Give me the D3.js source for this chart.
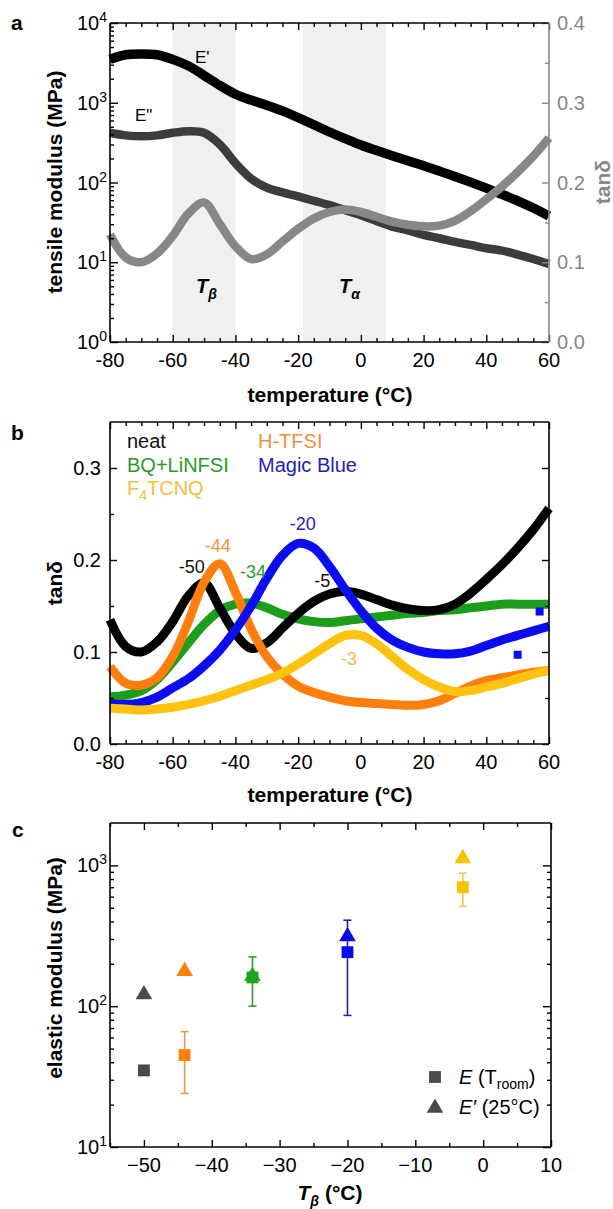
<!DOCTYPE html>
<html>
<head>
<meta charset="utf-8">
<script src="https://cdn.jsdelivr.net/npm/d3@7"></script>
<style>
  body { margin: 0; background: #fff; }
  svg { display: block; }
  text { font-family: "Liberation Sans", Arial, sans-serif; }
</style>
</head>
<body>
<div id="fig"></div>
<script>
// ---- data ----
const temps = [-80,-75,-70,-65,-60,-55,-50,-45,-40,-35,-30,-25,-20,-15,-10,-5,0,5,10,15,20,25,30,35,40,45,50,55,60];

// panel a: storage / loss modulus (MPa) and tan delta of the neat film
const eStorage = [3500,4000,4100,4000,3500,2900,2200,1650,1280,1080,930,790,650,530,430,355,295,252,217,187,162,139,119,101,85,71,59,48,38];
const eLoss = [420,390,380,390,420,440,420,300,175,112,86,75,67,59,52,45,39,33,28,25,22,20,18,16.5,15,14,12.5,11,9.5];
const tanNeat = [0.135,0.106,0.100,0.111,0.133,0.161,0.175,0.148,0.120,0.104,0.110,0.126,0.142,0.155,0.163,0.166,0.163,0.157,0.151,0.147,0.145,0.146,0.152,0.164,0.179,0.195,0.213,0.233,0.256];

// panel b: tan delta of the doped films
const tanHTFSI = [0.084,0.066,0.064,0.072,0.095,0.133,0.176,0.196,0.165,0.125,0.095,0.076,0.063,0.056,0.051,0.047,0.045,0.044,0.043,0.042,0.043,0.047,0.055,0.063,0.069,0.072,0.075,0.078,0.080];
const tanBQ = [0.051,0.053,0.058,0.070,0.089,0.110,0.130,0.145,0.152,0.153,0.148,0.141,0.136,0.133,0.132,0.134,0.136,0.138,0.140,0.142,0.143,0.145,0.146,0.148,0.150,0.152,0.152,0.152,0.152];
const tanMagic = [0.044,0.043,0.045,0.051,0.061,0.071,0.085,0.102,0.124,0.150,0.180,0.205,0.218,0.213,0.193,0.168,0.145,0.126,0.113,0.105,0.100,0.098,0.098,0.101,0.107,0.113,0.118,0.123,0.128];
const tanF4 = [0.039,0.038,0.037,0.038,0.040,0.043,0.047,0.052,0.058,0.064,0.070,0.077,0.087,0.098,0.109,0.118,0.118,0.109,0.095,0.081,0.070,0.062,0.057,0.058,0.062,0.066,0.071,0.076,0.080];
const magicStray = [[50, 0.097], [57, 0.144]];

const tempMajor = [-80,-60,-40,-20,0,20,40,60];
const tempMinor = [-75,-70,-65,-55,-50,-45,-35,-30,-25,-15,-10,-5,5,10,15,25,30,35,45,50,55];
const decadesA = [1,10,100,1000,10000];
const expA = ["0","1","2","3","4"];
const logMinorA = [2,3,4,5,6,7,8,9,20,30,40,50,60,70,80,90,200,300,400,500,600,700,800,900,2000,3000,4000,5000,6000,7000,8000,9000];
const tanMajorA = [0,0.1,0.2,0.3,0.4];
const tanMinorA = [0.05,0.15,0.25,0.35];
const tanMajorB = [0,0.1,0.2,0.3];
const tanMinorB = [0.05,0.15,0.25];
const bandsA = [[-60,-40],[-18.5,8]];

// peak labels in panel b (placed where they sit in the figure)
const peakLabels = ["-50","-44","-34","-20","-5","-3"];
const peakT = [-53.9,-45.6,-34.4,-18.5,-12.3,-3.8];
const peakTan = [0.186,0.209,0.180,0.233,0.171,0.086];

// panel c
const tBeta = [-50,-44,-34,-20,-3];
const eRoom = [35,45,160,242,700];
const eRoomLo = [null,24,100,86,512];
const eRoomHi = [null,66,224,408,880];
const ePrime25 = [123,180,166,318,1140];
const tbMajor = [-50,-40,-30,-20,-10,0,10];
const tbMinor = [-55,-45,-35,-25,-15,-5,5];
const decadesC = [10,100,1000];
const expC = ["1","2","3"];
const logMinorC = [20,30,40,50,60,70,80,90,200,300,400,500,600,700,800,900];

// ---- colours ----
const colNeat = "#000000", colHTFSI = "#ff7f0e", colBQ = "#1b9e1b", colMagic = "#0c0cf0", colF4 = "#ffc20e";
const txtNeat = "#111111", txtHTFSI = "#ee9144", txtBQ = "#2a9b2a", txtMagic = "#2323b0", txtF4 = "#f0c13a";
const colC = ["#4a4a4a", "#ff7f0e", "#1ea41e", "#0a0ae6", "#f7c100"];
const errC = [null, "#d8a048", "#30a030", "#23239a", "#eec455"];
const grayTan = "#878787";

const svg = d3.select("#fig").append("svg").attr("width", 613).attr("height", 1209);

const pa = {l: 110, r: 549, t: 23, b: 342};
const pb = {l: 110, r: 549, t: 422, b: 744};
const pc = {l: 110, r: 551, t: 823, b: 1147};

// ticks pointing into the plot
const tickSet = (gen, scale, vals, size, pos, color) => {
    const g = svg.append("g").attr("transform", pos)
        .call(gen(scale).tickValues(vals).tickSize(size).tickSizeOuter(0).tickFormat(""));
    g.select(".domain").remove();
    g.selectAll("line").attr("stroke", color || "#000").attr("stroke-width", 1.4);
    return g;
};
const frameLine = (x1, y1, x2, y2, color) => svg.append("line")
    .attr("x1", x1).attr("y1", y1).attr("x2", x2).attr("y2", y2)
    .attr("stroke", color || "#000").attr("stroke-width", 1.6);
const tickText = (vals, fx, fy, txt, anchor, color) => svg.append("g")
    .selectAll("text").data(vals).join("text")
    .attr("x", fx).attr("y", fy)
    .attr("text-anchor", anchor).attr("font-size", 20).attr("fill", color || "#000")
    .text(txt);
const powText = (vals, exps, scale, xRight) => {
    svg.append("g").selectAll("text").data(vals).join("text")
        .attr("x", xRight).attr("y", d => scale(d) + 7)
        .attr("text-anchor", "end").attr("font-size", 20)
        .each(function (d, i) {
            const t = d3.select(this);
            t.append("tspan").text("10");
            t.append("tspan").attr("dy", -8).attr("font-size", 14).text(exps[i]);
        });
};
const yTitle = (x, y, color) => svg.append("text")
    .attr("transform", `translate(${x},${y}) rotate(-90)`)
    .attr("text-anchor", "middle").attr("font-size", 21).attr("font-weight", "bold")
    .attr("fill", color || "#000");
const xTitle = (y) => svg.append("text").attr("x", 330).attr("y", y).attr("text-anchor", "middle")
    .attr("font-size", 21).attr("font-weight", "bold");
const panelLetter = (txt, x, y) => svg.append("text").attr("x", x).attr("y", y)
    .attr("font-size", 21).attr("font-weight", "bold").text(txt);

// =============== panel a ===============
const xA = d3.scaleLinear().domain([-80, 60]).range([pa.l, pa.r]);
const yA = d3.scaleLog().domain([1, 1e4]).range([pa.b, pa.t]);
const yA2 = d3.scaleLinear().domain([0, 0.4]).range([pa.b, pa.t]);

svg.append("g").selectAll("rect").data(bandsA).join("rect")
    .attr("x", d => xA(d[0])).attr("width", d => xA(d[1]) - xA(d[0]))
    .attr("y", pa.t).attr("height", pa.b - pa.t)
    .attr("fill", "#f0f0f0");

const lineA = d3.line().x(d => xA(d[0])).y(d => yA(d[1])).curve(d3.curveCatmullRom);
const lineA2 = d3.line().x(d => xA(d[0])).y(d => yA2(d[1])).curve(d3.curveCatmullRom);
svg.append("path").datum(d3.zip(temps, eStorage)).attr("d", lineA)
    .attr("fill", "none").attr("stroke", "#000").attr("stroke-width", 9.5);
svg.append("path").datum(d3.zip(temps, eLoss)).attr("d", lineA)
    .attr("fill", "none").attr("stroke", "#3c3c3c").attr("stroke-width", 8.5);
svg.append("path").datum(d3.zip(temps, tanNeat)).attr("d", lineA2)
    .attr("fill", "none").attr("stroke", grayTan).attr("stroke-width", 8.5);

tickSet(d3.axisBottom, xA, tempMajor, -7, `translate(0,${pa.b})`);
tickSet(d3.axisBottom, xA, tempMinor, -4, `translate(0,${pa.b})`);
tickSet(d3.axisTop, xA, tempMajor, -7, `translate(0,${pa.t})`);
tickSet(d3.axisTop, xA, tempMinor, -4, `translate(0,${pa.t})`);
tickSet(d3.axisLeft, yA, decadesA, -8, `translate(${pa.l},0)`);
tickSet(d3.axisLeft, yA, logMinorA, -4, `translate(${pa.l},0)`);
tickSet(d3.axisRight, yA2, tanMajorA, -7, `translate(${pa.r},0)`, grayTan);
tickSet(d3.axisRight, yA2, tanMinorA, -4, `translate(${pa.r},0)`, grayTan);
frameLine(pa.l, pa.t, pa.r, pa.t);
frameLine(pa.l, pa.b, pa.r, pa.b);
frameLine(pa.l, pa.t, pa.l, pa.b);
frameLine(pa.r, pa.t, pa.r, pa.b, grayTan);

tickText(tempMajor, d => xA(d), pa.b + 25, d => d, "middle");
powText(decadesA, expA, yA, 107);
tickText(tanMajorA, pa.r + 8, d => yA2(d) + 7, d => d3.format(".1f")(d), "start", grayTan);

svg.append("text").attr("x", 195).attr("y", 63).attr("font-size", 17).text("E'");
svg.append("text").attr("x", 135).attr("y", 121).attr("font-size", 17).text('E"');

const tLabelA = (x, sub) => {
    const t = svg.append("text").attr("x", x).attr("y", 293)
        .attr("font-size", 20).attr("font-weight", "bold").attr("font-style", "italic");
    t.append("tspan").text("T");
    t.append("tspan").attr("dy", 6).attr("font-size", 14).text(sub);
};
tLabelA(196, "β");
tLabelA(339, "α");

xTitle(402).text("temperature (°C)");
yTitle(62, 182).text("tensile modulus (MPa)");
yTitle(610, 182, grayTan).text("tanδ");
panelLetter("a", 11, 30);

// =============== panel b ===============
const xB = d3.scaleLinear().domain([-80, 60]).range([pb.l, pb.r]);
const yB = d3.scaleLinear().domain([0, 0.35]).range([pb.b, pb.t]);
const lineB = d3.line().x(d => xB(d[0])).y(d => yB(d[1])).curve(d3.curveCatmullRom);

const seriesB = [
    {vals: tanBQ, col: colBQ},
    {vals: tanNeat, col: colNeat},
    {vals: tanHTFSI, col: colHTFSI},
    {vals: tanMagic, col: colMagic},
    {vals: tanF4, col: colF4}
];
svg.append("g").selectAll("path").data(seriesB).join("path")
    .attr("d", s => lineB(d3.zip(temps, s.vals)))
    .attr("fill", "none").attr("stroke", s => s.col).attr("stroke-width", 9);
svg.append("g").selectAll("rect").data(magicStray).join("rect")
    .attr("x", d => xB(d[0]) - 4).attr("y", d => yB(d[1]) - 4)
    .attr("width", 8).attr("height", 8).attr("fill", colMagic);

tickSet(d3.axisBottom, xB, tempMajor, -7, `translate(0,${pb.b})`);
tickSet(d3.axisBottom, xB, tempMinor, -4, `translate(0,${pb.b})`);
tickSet(d3.axisTop, xB, tempMajor, -7, `translate(0,${pb.t})`);
tickSet(d3.axisTop, xB, tempMinor, -4, `translate(0,${pb.t})`);
tickSet(d3.axisLeft, yB, tanMajorB, -7, `translate(${pb.l},0)`);
tickSet(d3.axisLeft, yB, tanMinorB, -4, `translate(${pb.l},0)`);
tickSet(d3.axisRight, yB, tanMajorB, -7, `translate(${pb.r},0)`);
tickSet(d3.axisRight, yB, tanMinorB, -4, `translate(${pb.r},0)`);
frameLine(pb.l, pb.t, pb.r, pb.t);
frameLine(pb.l, pb.b, pb.r, pb.b);
frameLine(pb.l, pb.t, pb.l, pb.b);
frameLine(pb.r, pb.t, pb.r, pb.b);

tickText(tempMajor, d => xB(d), pb.b + 25, d => d, "middle");
tickText(tanMajorB, 101, d => yB(d) + 7, d => d3.format(".1f")(d), "end");

// legend
const legendB = [
    {name: "neat", col: txtNeat, x: 127, y: 448},
    {name: "BQ+LiNFSI", col: txtBQ, x: 127, y: 472},
    {name: "H-TFSI", col: txtHTFSI, x: 258, y: 448},
    {name: "Magic Blue", col: txtMagic, x: 258, y: 472}
];
svg.append("g").selectAll("text").data(legendB).join("text")
    .attr("x", d => d.x).attr("y", d => d.y).attr("font-size", 20)
    .attr("fill", d => d.col).text(d => d.name);
const f4 = svg.append("text").attr("x", 127).attr("y", 495).attr("font-size", 20).attr("fill", txtF4);
f4.append("tspan").text("F");
f4.append("tspan").attr("dy", 5).attr("font-size", 14).text("4");
f4.append("tspan").attr("dy", -5).text("TCNQ");

const peakCols = [txtNeat, txtHTFSI, txtBQ, txtMagic, txtNeat, "#e6bf45"];
svg.append("g").selectAll("text").data(peakLabels).join("text")
    .attr("x", (d, i) => xB(peakT[i])).attr("y", (d, i) => yB(peakTan[i]))
    .attr("text-anchor", "middle").attr("font-size", 18)
    .attr("fill", (d, i) => peakCols[i]).text(d => d);

xTitle(802).text("temperature (°C)");
yTitle(62, 583).text("tanδ");
panelLetter("b", 11, 440);

// =============== panel c ===============
const xC = d3.scaleLinear().domain([-55, 10]).range([pc.l, pc.r]);
const yC = d3.scaleLog().domain([10, 2000]).range([pc.b, pc.t]);

const bars = tBeta.map((t, i) => ({t, lo: eRoomLo[i], hi: eRoomHi[i], col: errC[i]})).filter(d => d.lo !== null);
const gErr = svg.append("g");
bars.forEach(d => {
    gErr.append("line").attr("x1", xC(d.t)).attr("x2", xC(d.t))
        .attr("y1", yC(d.lo)).attr("y2", yC(d.hi)).attr("stroke", d.col).attr("stroke-width", 1.6);
    [d.lo, d.hi].forEach(v => gErr.append("line")
        .attr("x1", xC(d.t) - 4).attr("x2", xC(d.t) + 4)
        .attr("y1", yC(v)).attr("y2", yC(v)).attr("stroke", d.col).attr("stroke-width", 1.6));
});

const sq = d3.symbol().type(d3.symbolSquare).size(140);
const tri = d3.symbol().type(d3.symbolTriangle).size(120);
svg.append("g").selectAll("path").data(tBeta).join("path")
    .attr("transform", (d, i) => `translate(${xC(d)},${yC(eRoom[i])})`)
    .attr("d", sq).attr("fill", (d, i) => colC[i]);
svg.append("g").selectAll("path").data(tBeta).join("path")
    .attr("transform", (d, i) => `translate(${xC(d)},${yC(ePrime25[i]) + 1})`)
    .attr("d", tri).attr("fill", (d, i) => colC[i]);

tickSet(d3.axisBottom, xC, tbMajor, -7, `translate(0,${pc.b})`);
tickSet(d3.axisBottom, xC, tbMinor, -4, `translate(0,${pc.b})`);
tickSet(d3.axisTop, xC, tbMajor, -7, `translate(0,${pc.t})`);
tickSet(d3.axisTop, xC, tbMinor, -4, `translate(0,${pc.t})`);
tickSet(d3.axisLeft, yC, decadesC, -8, `translate(${pc.l},0)`);
tickSet(d3.axisLeft, yC, logMinorC, -4, `translate(${pc.l},0)`);
tickSet(d3.axisRight, yC, decadesC, -8, `translate(${pc.r},0)`);
tickSet(d3.axisRight, yC, logMinorC, -4, `translate(${pc.r},0)`);
frameLine(pc.l, pc.t, pc.r, pc.t);
frameLine(pc.l, pc.b, pc.r, pc.b);
frameLine(pc.l, pc.t, pc.l, pc.b);
frameLine(pc.r, pc.t, pc.r, pc.b);

tickText(tbMajor, d => xC(d), pc.b + 25, d => d < 0 ? "\u2212" + Math.abs(d) : d, "middle");
powText(decadesC, expC, yC, 107);

// legend panel c
svg.append("path").attr("transform", "translate(435,1077)").attr("d", sq).attr("fill", colC[0]);
svg.append("path").attr("transform", "translate(435,1108)").attr("d", tri).attr("fill", colC[0]);
const legC1 = svg.append("text").attr("x", 459).attr("y", 1084).attr("font-size", 20);
legC1.append("tspan").attr("font-style", "italic").text("E");
legC1.append("tspan").text(" (T");
legC1.append("tspan").attr("dy", 5).attr("font-size", 14).text("room");
legC1.append("tspan").attr("dy", -5).text(")");
const legC2 = svg.append("text").attr("x", 459).attr("y", 1114).attr("font-size", 20);
legC2.append("tspan").attr("font-style", "italic").text("E′");
legC2.append("tspan").text(" (25°C)");

const tbTitle = xTitle(1200);
tbTitle.append("tspan").attr("font-style", "italic").text("T");
tbTitle.append("tspan").attr("font-style", "italic").attr("dy", 6).attr("font-size", 14).text("β");
tbTitle.append("tspan").attr("dy", -6).text(" (°C)");
yTitle(62, 968).text("elastic modulus (MPa)");
panelLetter("c", 12, 837);
</script>
</body>
</html>
